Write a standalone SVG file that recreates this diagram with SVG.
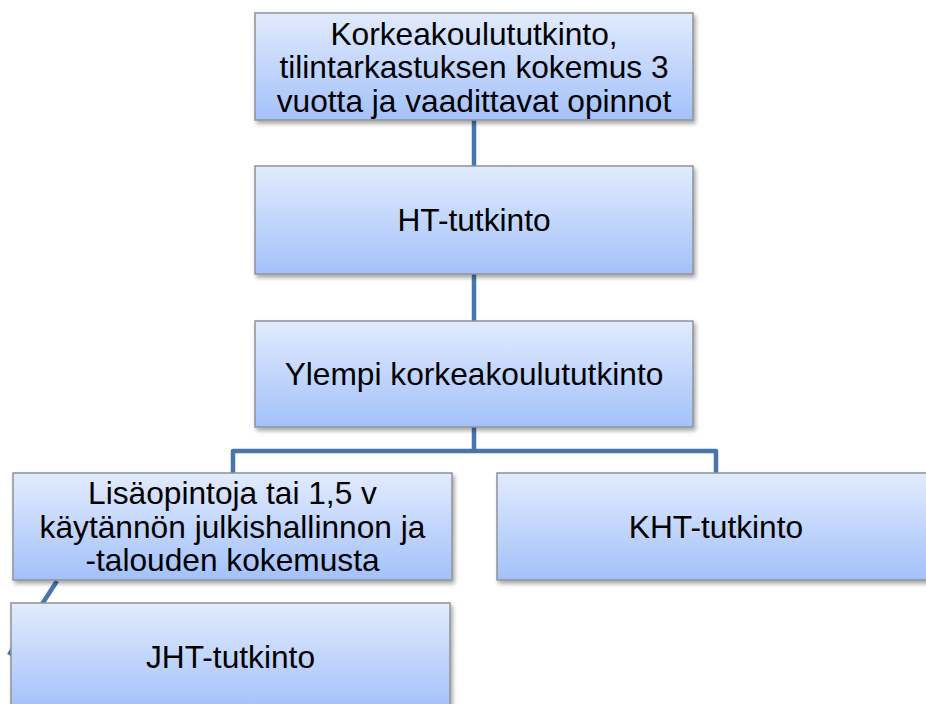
<svg xmlns="http://www.w3.org/2000/svg" width="926" height="704" viewBox="0 0 926 704">
<style>
.box{fill:url(#g);stroke:#8e9297;stroke-width:1.5;filter:url(#sh)}
.t{font-family:"Liberation Sans",Arial,sans-serif;font-size:31.7px;fill:#000;text-anchor:middle}
.c{fill:none;stroke:#4a75aa;stroke-width:4.5;stroke-linejoin:round}
</style>
<defs>
<linearGradient id="g" x1="0" y1="0" x2="0" y2="1">
<stop offset="0" stop-color="#e2ebfd"/>
<stop offset="1" stop-color="#a3c1fa"/>
</linearGradient>
<filter id="sh" x="-10%" y="-10%" width="125%" height="130%">
<feDropShadow dx="2" dy="3" stdDeviation="2" flood-color="#000" flood-opacity="0.35"/>
</filter>
</defs>
<rect width="926" height="704" fill="#fff"/>
<g id="connectors">
<path class="c" d="M474 120V166"/>
<path class="c" d="M474 274V321"/>
<path class="c" d="M474 427V451M233 473V451H716V473"/>
<path class="c" d="M57 581L9 655"/>
</g>
<g id="n1">
<rect class="box" x="255" y="13" width="438" height="107"/>
<text class="t" x="474" y="44.5">Korkeakoulututkinto,</text>
<text class="t" x="474" y="78">tilintarkastuksen kokemus 3</text>
<text class="t" x="474" y="111.5">vuotta ja vaadittavat opinnot</text>
</g>
<g id="n2">
<rect class="box" x="255" y="166" width="438" height="108"/>
<text class="t" x="474" y="231">HT-tutkinto</text>
</g>
<g id="n3">
<rect class="box" x="255" y="321" width="438" height="106"/>
<text class="t" x="474" y="385">Ylempi korkeakoulututkinto</text>
</g>
<g id="n4">
<rect class="box" x="13" y="473" width="439" height="107"/>
<text class="t" x="232.5" y="504">Lisäopintoja tai 1,5 v</text>
<text class="t" x="232.5" y="537.5">käytännön julkishallinnon ja</text>
<text class="t" x="232.5" y="571">-talouden kokemusta</text>
</g>
<g id="n5">
<rect class="box" x="497" y="473" width="438" height="107"/>
<text class="t" x="716" y="538">KHT-tutkinto</text>
</g>
<g id="n6">
<rect class="box" x="11" y="603" width="439" height="107"/>
<text class="t" x="230.5" y="668">JHT-tutkinto</text>
</g>
</svg>
